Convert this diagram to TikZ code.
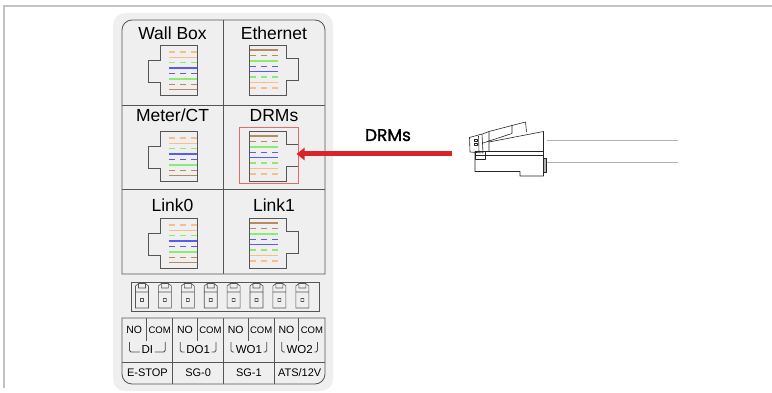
\documentclass[tikz,border=0pt]{standalone}
\usepackage{fontspec}
\setmainfont{Liberation Sans}
\newfontfamily\calloutfont{Poppins}[FakeBold=1.2]
\usetikzlibrary{arrows.meta}
\definecolor{colour_panel}{HTML}{EFEFEF}
\definecolor{colour_line}{HTML}{555555}
\definecolor{colour_frame}{HTML}{C2C2C2}
\definecolor{colour_arrow}{HTML}{D9252A}
\definecolor{colour_select}{HTML}{E86A6A}
\definecolor{wire_orange}{HTML}{F7BE8C}
\definecolor{wire_green}{HTML}{8DEB6F}
\definecolor{wire_blue}{HTML}{5B5BF2}
\definecolor{wire_brown}{HTML}{B88A62}

% RJ45 socket, latch tab on the left; rotate=180 gives the mirrored one
\tikzset{
    wire dash/.style={dash pattern=on 6pt off 5pt},
    wire full/.style={},
    rj45 jack/.pic={
        \draw[colour_line, line width=0.8pt, fill=colour_panel]
            (-18.5,-25) -- (18.5,-25) -- (18.5,25) -- (-18.5,25) -- (-18.5,12)
            -- (-30.5,12) -- (-30.5,-10) -- (-18.5,-10) -- cycle;
        \foreach \col/\sty [count=\i from 0] in {wire_orange/wire dash, wire_orange/wire full,
                wire_green/wire dash, wire_blue/wire full, wire_blue/wire dash,
                wire_green/wire full, wire_brown/wire dash, wire_brown/wire full}
            \draw[\col, \sty, line width=1.4pt] (-9.5,-18+5.4*\i) -- (18.5,-18+5.4*\i);
    },
    terminal/.pic={
        \draw[colour_line, line width=0.6pt] (-6.5,-8) rectangle (6.5,8)
            (-1.5,-1.5) rectangle (1.5,1.5)
            (-6.5,-8) -- (-6.5,-14) -- (-3.5,-16.5) -- (3.5,-16.5) -- (6.5,-14) -- (6.5,-8)
            (-3.5,-16.5) -- (-3.5,-12) -- (3.5,-12) -- (3.5,-16.5);
    }
}

\begin{document}
\begin{tikzpicture}[
    x=1pt, y=-1pt,
    grid/.style={colour_line, line width=0.8pt},
    port/.style={font=\fontsize{17.5}{20}\selectfont, inner sep=0pt, anchor=base},
    cell/.style={font=\fontsize{10.5}{12}\selectfont, inner sep=0pt},
    small cell/.style={font=\fontsize{9.5}{11}\selectfont, inner sep=0pt},
    group/.style={font=\fontsize{11}{13}\selectfont, inner sep=0pt},
    bracket/.style={font=\fontsize{11.5}{13}\selectfont, inner ysep=0pt, inner xsep=1.5pt},
    bracket line/.style={gray!60!black, line width=0.8pt, rounded corners=1.5pt},
    plug/.style={draw=gray!30!black, line width=0.6pt, line join=round},
    arrow/.style={-{Triangle[length=8pt, width=12pt]}, line width=5pt, colour_arrow}
]
\useasboundingbox (0,0) rectangle (772,393);

% page frame
\draw[colour_frame, line width=2pt] (4,388) -- (4,6) -- (772,6);

% device panel
\fill[colour_panel, rounded corners=12pt] (113,13) rectangle (333,391);

% port grid
\draw[grid] (122,274) -- (122,30) arc[start angle=180, end angle=270, radius=10]
    -- (315,20) arc[start angle=270, end angle=360, radius=10] -- (325,274) -- cycle;
\draw[grid] (122,105) -- (325,105) (122,189.5) -- (325,189.5) (223.5,20) -- (223.5,274);

% port names
\node[port] (wallbox) at (172.5,40) {Wall Box};
\node[port] (ethernet) at (274,40) {Ethernet};
\node[port] (meter) at (172.5,122) {Meter/CT};
\node[port] (drms) at (274,122) {DRMs};
\node[port] (link0) at (172.5,212) {Link0};
\node[port] (link1) at (274,212) {Link1};

% sockets
\pic at (178.5,70) {rj45 jack};
\pic[rotate=180] at (268,70) {rj45 jack};
\pic at (178.5,156) {rj45 jack};
\pic[rotate=180] at (268,156) {rj45 jack};
\pic at (178.5,243) {rj45 jack};
\pic[rotate=180] at (268,243) {rj45 jack};

% highlighted DRMs socket
\node[draw=colour_select, line width=1pt, minimum width=59pt, minimum height=56pt]
    (drms_sel) at (268.5,156) {};

% terminal block
\draw[grid] (131,282) rectangle (319,311);
\foreach \i in {0,...,7}
    \pic at ({142+22.9*\i},300) {terminal};

% terminal labels
\draw[grid] (122,318) -- (122,374) arc[start angle=180, end angle=90, radius=10]
    -- (315,384) arc[start angle=90, end angle=0, radius=10] -- (325,318) -- cycle;
\draw[grid] (122,362) -- (325,362);
\foreach \sig/\use [count=\i from 0] in {DI/E-STOP, DO1/SG-0, WO1/SG-1, WO2/{ATS/12V}} {
    \pgfmathsetmacro\gx{122+50.75*\i}
    \node[cell] (no\i) at (\gx+12.25,330) {NO};
    \node[small cell] (com\i) at (\gx+37.6,330) {COM};
    \node[bracket] (sig\i) at (\gx+25.4,350) {\sig};
    \node[group] (use\i) at (\gx+25.4,373) {\use};
    \draw[grid] (\gx+24.5,318) -- (\gx+24.5,341);
    \draw[bracket line] (\gx+7.5,342) |- ([yshift=-2pt]sig\i.west);
    \draw[bracket line] (\gx+43.25,342) |- ([yshift=-2pt]sig\i.east);
}
\draw[grid] (172.75,318) -- (172.75,384) (223.5,318) -- (223.5,384) (274.25,318) -- (274.25,384);

% callout arrow
\node[font=\calloutfont\fontsize{17}{20}\selectfont, inner sep=0pt, anchor=base]
    (drms_callout) at (388,141) {DRMs};
\coordinate (arrow_start) at (452,154);
\draw[arrow, shorten >=-2pt] (arrow_start) -- (drms_sel.east |- arrow_start);

% RJ45 plug and cable
\draw[plug] (469.5,137.5) -- (482,134) -- (483,153) -- (470,152) -- cycle;
\draw[plug] (478.5,136) -- (479,152);
\draw[plug] (474,139) rectangle (477,141.5) (474,143) rectangle (477,145.5);
\draw[plug] (482.5,134) -- (489,131.5) -- (525.5,122) -- (526.5,132);
\draw[plug] (483,143) -- (512,133.5) (489,131.5) -- (489,151.5) (512,125) -- (512,133.5);
\draw[plug] (489,142) -- (543.5,131.5) -- (543.5,176) -- (520,176) -- (520,171.5)
    -- (475,171.5) -- (475,151.5) -- (543.5,151.5);
\draw[plug] (475,155.5) -- (543.5,155.5) (475,151.5) rectangle (485,159.5);
\draw[plug, fill=gray!60] (543.5,158) rectangle (546.5,172);
\draw[plug, draw=gray!60] (546.5,140.5) -- (678,140.5) (546.5,162) -- (678,162);

\end{tikzpicture}
\end{document}
